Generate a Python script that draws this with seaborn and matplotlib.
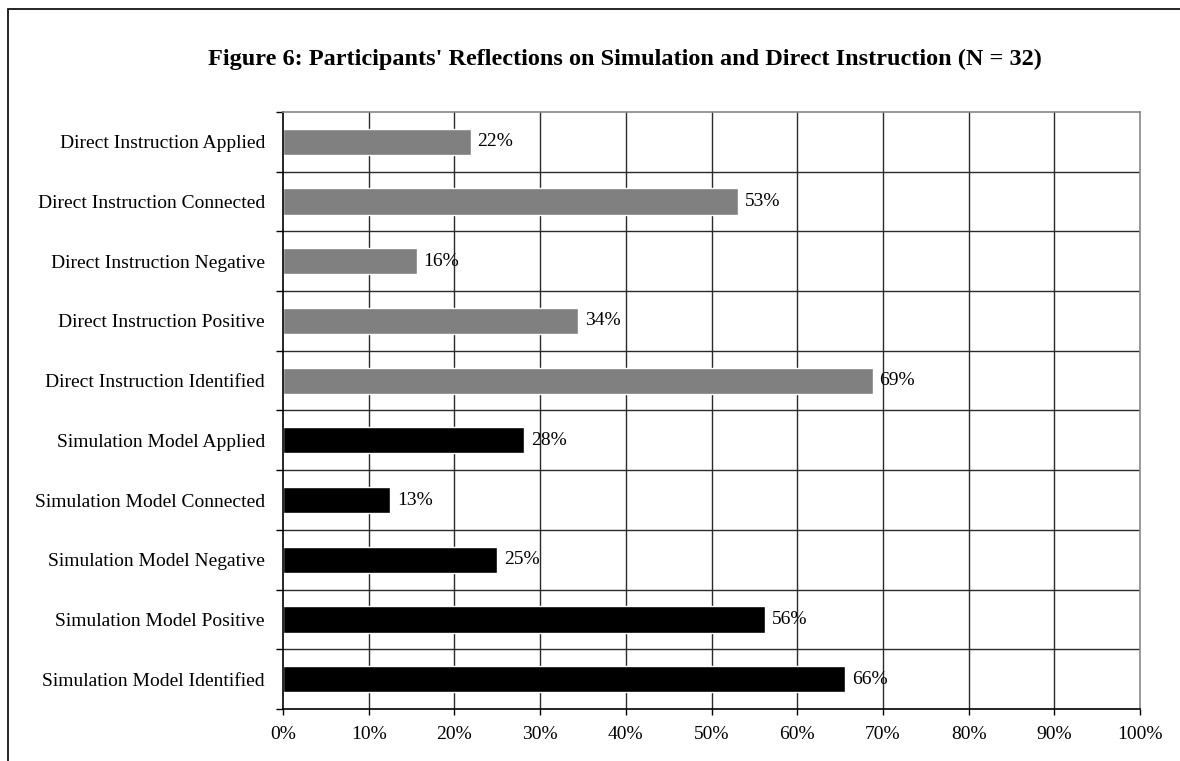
import matplotlib
matplotlib.use("Agg")
import matplotlib.pyplot as plt
import matplotlib.patches as mpatches
import seaborn as sns
import pandas as pd

categories = [
    "Direct Instruction Applied",
    "Direct Instruction Connected",
    "Direct Instruction Negative",
    "Direct Instruction Positive",
    "Direct Instruction Identified",
    "Simulation Model Applied",
    "Simulation Model Connected",
    "Simulation Model Negative",
    "Simulation Model Positive",
    "Simulation Model Identified",
]
percent = [21.9, 53.1, 15.6, 34.4, 68.8, 28.1, 12.5, 25.0, 56.3, 65.6]
group = ["Direct Instruction"] * 5 + ["Simulation Model"] * 5
x_ticks = [0, 10, 20, 30, 40, 50, 60, 70, 80, 90, 100]

df = pd.DataFrame({"category": categories, "percent": percent, "group": group})

sns.set_theme(style="white")
plt.rcParams["font.family"] = ["Liberation Serif", "DejaVu Serif"]
for key in ["text.color", "xtick.color", "ytick.color", "xtick.labelcolor", "ytick.labelcolor"]:
    plt.rcParams[key] = "black"

fig = plt.figure(figsize=(11.8, 7.61), dpi=100)
ax = fig.add_axes([283 / 1180, 1 - 709 / 761, (1140 - 283) / 1180, (709 - 112) / 761])

sns.barplot(
    data=df, x="percent", y="category", hue="group", orient="h",
    palette={"Direct Instruction": "#808080", "Simulation Model": "#000000"},
    width=0.44, dodge=False, legend=False, ax=ax, saturation=1,
)

ax.set_xlim(0, 100)
ax.set_ylim(len(categories) - 0.5, -0.5)
ax.set_xticks(x_ticks)
ax.set_xticklabels([f"{t}%" for t in x_ticks], fontsize=14)
ax.set_yticks(range(len(categories)))
ax.set_yticklabels(categories, fontsize=14)
ax.set_xlabel("")
ax.set_ylabel("")

# vertical gridlines at every 10 %
for t in x_ticks[1:-1]:
    ax.axvline(t, color="#2a2a2a", lw=1, zorder=0)
# horizontal lines on category boundaries
for b in [i + 0.5 for i in range(len(categories) - 1)]:
    ax.axhline(b, color="#2a2a2a", lw=1, zorder=0)

# boundary tick marks on the y axis
ax.set_yticks([i - 0.5 for i in range(len(categories) + 1)], minor=True)
ax.tick_params(axis="y", which="major", length=0, pad=13)
ax.tick_params(axis="y", which="minor", length=5, width=1, color="black", direction="out", left=True)
ax.tick_params(axis="x", which="major", length=4, width=1, color="black", direction="out", bottom=True, pad=8)

for side in ["left", "bottom"]:
    ax.spines[side].set_color("black")
    ax.spines[side].set_linewidth(1.2)
for side in ["top", "right"]:
    ax.spines[side].set_color("#888888")
    ax.spines[side].set_linewidth(1.2)
    ax.spines[side].set_visible(True)

for i, v in enumerate(percent):
    ax.text(v + 0.8, i, f"{int(v + 0.5)}%", va="center", ha="left", fontsize=14, color="black")

fig.text(625 / 1180, 1 - 59 / 761,
         "Figure 6: Participants' Reflections on Simulation and Direct Instruction (N = 32)",
         ha="center", va="center", fontsize=17.5, fontweight="bold", color="black")

# outer frame of the figure
fig.patches.append(mpatches.Rectangle((8 / 1180, -0.1), 1.2, 1 - 9 / 761 + 0.1,
                                      transform=fig.transFigure, fill=False,
                                      edgecolor="black", lw=1.2))

fig.savefig("out.png", dpi=100)
